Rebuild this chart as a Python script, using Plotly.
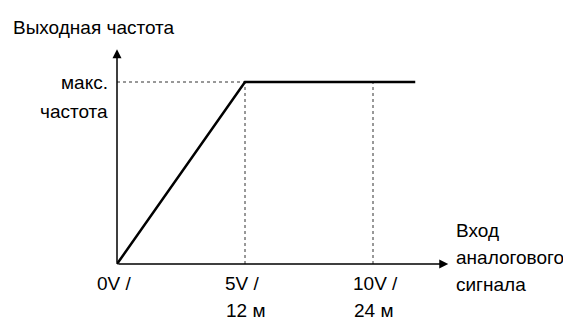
import plotly.graph_objects as go

# Data (input signal in volts vs. normalized output frequency)
signal_v = [0, 5, 11.65]
out_freq = [0, 1, 1]
tick_vals = [0, 5, 10]
tick_line1 = ["0V /", "5V /", "10V /"]
tick_line2 = ["", "12 м", "24 м"]
freq_max = 1
y_label_lines = ["макс.", "частота"]
x_title_lines = ["Вход", "аналогового", "сигнала"]
y_title = "Выходная частота"

W, H = 571, 321
PAGE_OFF = 8               # default body margin of the html page
ox, oy = 117 - PAGE_OFF, 264 - PAGE_OFF   # origin pixel inside the figure
sx, sy = 25.6, 182         # px per unit
xr = [-ox / sx, (W - ox) / sx]
yr = [-(H - oy) / sy, oy / sy]

FONT = "Liberation Sans, Arial, sans-serif"
FS = 19

fig = go.Figure()

# dotted guide lines
fig.add_trace(go.Scatter(x=[0, signal_v[1]], y=[freq_max, freq_max], mode="lines",
                         line=dict(color="#333", width=1, dash="dot"), hoverinfo="skip"))
for tv in tick_vals[1:]:
    fig.add_trace(go.Scatter(x=[tv, tv], y=[0, freq_max], mode="lines",
                             line=dict(color="#333", width=1, dash="dot"), hoverinfo="skip"))

# main characteristic
fig.add_trace(go.Scatter(x=signal_v, y=out_freq, mode="lines",
                         line=dict(color="black", width=2.5), hoverinfo="skip"))

ann = []
# axes with arrows
ann.append(dict(x=12.94, y=0, ax=0, ay=0, xref="x", yref="y", axref="x", ayref="y",
                showarrow=True, arrowhead=2, arrowsize=1.2, arrowwidth=1.5, arrowcolor="black", text=""))
ann.append(dict(x=0, y=1.18, ax=0, ay=0, xref="x", yref="y", axref="x", ayref="y",
                showarrow=True, arrowhead=2, arrowsize=1.2, arrowwidth=1.5, arrowcolor="black", text=""))

# tick labels
for tv, l1, l2 in zip(tick_vals, tick_line1, tick_line2):
    ann.append(dict(x=tv, y=0, xref="x", yref="y", text=l1, showarrow=False,
                    xanchor="left", yanchor="middle", xshift=-22, yshift=-19,
                    font=dict(family=FONT, size=FS, color="black")))
    if l2:
        ann.append(dict(x=tv, y=0, xref="x", yref="y", text=l2, showarrow=False,
                        xanchor="left", yanchor="middle", xshift=-21, yshift=-46,
                        font=dict(family=FONT, size=FS, color="black")))

# y labels
for i, t in enumerate(y_label_lines):
    ann.append(dict(x=0, y=freq_max, xref="x", yref="y", text=t, showarrow=False,
                    xanchor="right", yanchor="middle", xshift=-7, yshift=-i * 29,
                    font=dict(family=FONT, size=FS, color="black")))

# x title
for i, t in enumerate(x_title_lines):
    ann.append(dict(x=12.94, y=0, xref="x", yref="y", text=t, showarrow=False,
                    xanchor="left", yanchor="middle", xshift=6, yshift=34 - i * 27,
                    font=dict(family=FONT, size=FS, color="black")))

# y title
ann.append(dict(x=0, y=1.3, xref="x", yref="y", text=y_title, showarrow=False,
                xanchor="left", yanchor="middle", xshift=-106, yshift=0,
                font=dict(family=FONT, size=FS, color="black")))

fig.update_layout(
    width=W, height=H, margin=dict(l=0, r=0, t=0, b=0),
    paper_bgcolor="white", plot_bgcolor="white", showlegend=False,
    xaxis=dict(range=xr, visible=False, fixedrange=True),
    yaxis=dict(range=yr, visible=False, fixedrange=True),
    annotations=ann,
)
fig.write_html("out.html")
